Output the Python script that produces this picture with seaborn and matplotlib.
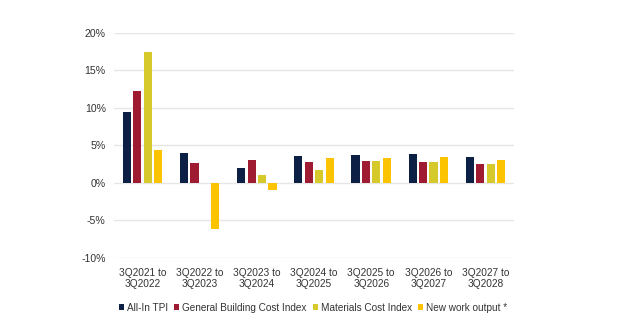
import matplotlib
matplotlib.use("Agg")
import matplotlib.pyplot as plt
import seaborn as sns
import pandas as pd
from matplotlib.ticker import FuncFormatter
from matplotlib.patches import Patch

periods = ["3Q2021 to\n3Q2022", "3Q2022 to\n3Q2023", "3Q2023 to\n3Q2024", "3Q2024 to\n3Q2025",
           "3Q2025 to\n3Q2026", "3Q2026 to\n3Q2027", "3Q2027 to\n3Q2028"]
series = ["All-In TPI", "General Building Cost Index", "Materials Cost Index", "New work output *"]
all_in_tpi = [9.4, 4.0, 2.05, 3.6, 3.7, 3.8, 3.4]
general_building = [12.2, 2.7, 3.1, 2.8, 2.9, 2.8, 2.55]
materials = [17.5, 0.0, 1.0, 1.75, 2.9, 2.8, 2.5]
new_work = [4.4, -6.2, -0.95, 3.3, 3.3, 3.4, 3.1]
colors = ["#0c1f44", "#9e1b32", "#d6c92b", "#fcc300"]

rows = []
for name, vals in zip(series, [all_in_tpi, general_building, materials, new_work]):
    for p, v in zip(periods, vals):
        rows.append({"period": p, "series": name, "value": v})
df = pd.DataFrame(rows)

sns.set_theme(style="white")
plt.rcParams['font.family'] = ['Liberation Sans', 'DejaVu Sans']

fig = plt.figure(figsize=(6.2, 3.29), dpi=100)
ax = fig.add_axes([0.184, 0.216, 0.645, 0.684])
sns.barplot(data=df, x="period", y="value", hue="series", palette=colors,
            width=0.73, gap=0.22, ax=ax, legend=False, saturation=1,
            linewidth=0, edgecolor="none")

ax.set_ylim(-10, 20)
ax.set_yticks([-10, -5, 0, 5, 10, 15, 20])
ax.yaxis.set_major_formatter(FuncFormatter(lambda v, _: f"{int(v)}%"))
ax.grid(axis="y", color="#e6e6e6", linewidth=1)
ax.set_axisbelow(True)
for s in ax.spines.values():
    s.set_visible(False)
ax.set_xlabel("")
ax.set_ylabel("")
ax.tick_params(axis="y", length=0, labelsize=7.6, colors="#333333", pad=6)
ax.tick_params(axis="x", length=0, labelsize=7.3, colors="#333333", pad=7)
ax.set_xlim(-0.5, 6.5)

handles = [Patch(facecolor=c, edgecolor="none", label=s) for c, s in zip(colors, series)]
fig.legend(handles=handles, loc="center", bbox_to_anchor=(0.505, 0.065), ncol=4,
           frameon=False, fontsize=7.2, handlelength=0.5, handleheight=0.5,
           handletextpad=0.3, columnspacing=0.6, labelcolor="#333333")

fig.savefig("out.png", dpi=100)
